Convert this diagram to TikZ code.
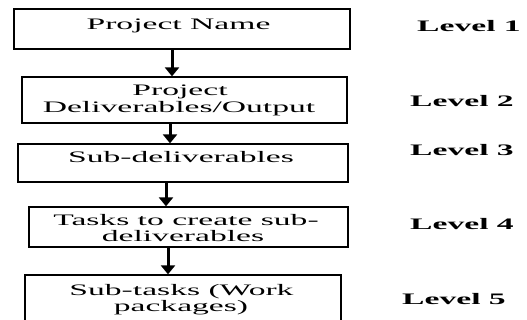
\documentclass[tikz,border=0pt]{standalone}
\usepackage{fontspec}
\usepackage{graphicx}
\setmainfont{Liberation Serif}
\usetikzlibrary{arrows.meta}
\newcommand{\wide}[1]{\scalebox{2.1}[1]{#1}}
\tikzset{
  box/.style={draw=black, line width=1.3pt, rectangle, inner sep=0pt},
  txt/.style={anchor=base, inner sep=0pt, font=\fontsize{16}{17}\selectfont},
  lvl/.style={anchor=base west, inner sep=0pt, font=\fontsize{16}{17}\selectfont\bfseries},
  arr/.style={line width=3pt, -{Triangle[width=14pt,length=9pt]}}
}
\begin{document}
\begin{tikzpicture}[x=1pt,y=-1pt]
\useasboundingbox (0,0) rectangle (527,320);
\clip (0,0) rectangle (527,320);
\fill[white] (0,0) rectangle (527,320);
% boxes
\node[box, minimum width=336pt, minimum height=40pt] (b1) at (182,29) {};
\node[box, minimum width=325pt, minimum height=46pt] (b2) at (184.5,100) {};
\node[box, minimum width=330pt, minimum height=38pt] (b3) at (183,163) {};
\node[box, minimum width=319pt, minimum height=40pt] (b4) at (188.5,227) {};
\node[box, minimum width=316pt, minimum height=56pt] (b5) at (183,303) {};
% texts
\node[txt] (t1) at (178.5,30) {\wide{Project Name}};
\node[txt] (t2a) at (180,96) {\wide{Project}};
\node[txt] (t2b) at (179,113) {\wide{Deliverables/Output}};
\node[txt] (t3) at (181,162.5) {\wide{Sub-deliverables}};
\node[txt] (t4a) at (186,226) {\wide{Tasks to create sub-}};
\node[txt] (t4b) at (183,242) {\wide{deliverables}};
\node[txt] (t5a) at (181.5,295) {\wide{Sub-tasks (Work}};
\node[txt] (t5b) at (181,311) {\wide{packages)}};
% levels
\node[lvl] (l1) at (417,32) {\wide{Level 1}};
\node[lvl] (l2) at (410,107) {\wide{Level 2}};
\node[lvl] (l3) at (410,156) {\wide{Level 3}};
\node[lvl] (l4) at (410,230) {\wide{Level 4}};
\node[lvl] (l5) at (402,304) {\wide{Level 5}};
% arrow columns
\coordinate (x1) at (172,0);
\coordinate (x2) at (170,0);
\coordinate (x3) at (166,0);
\coordinate (x4) at (168,0);
\draw[arr] (b1.south -| x1) -- (b2.north -| x1);
\draw[arr] (b2.south -| x2) -- (b3.north -| x2);
\draw[arr] (b3.south -| x3) -- (b4.north -| x3);
\draw[arr] (b4.south -| x4) -- (b5.north -| x4);
\end{tikzpicture}
\end{document}
